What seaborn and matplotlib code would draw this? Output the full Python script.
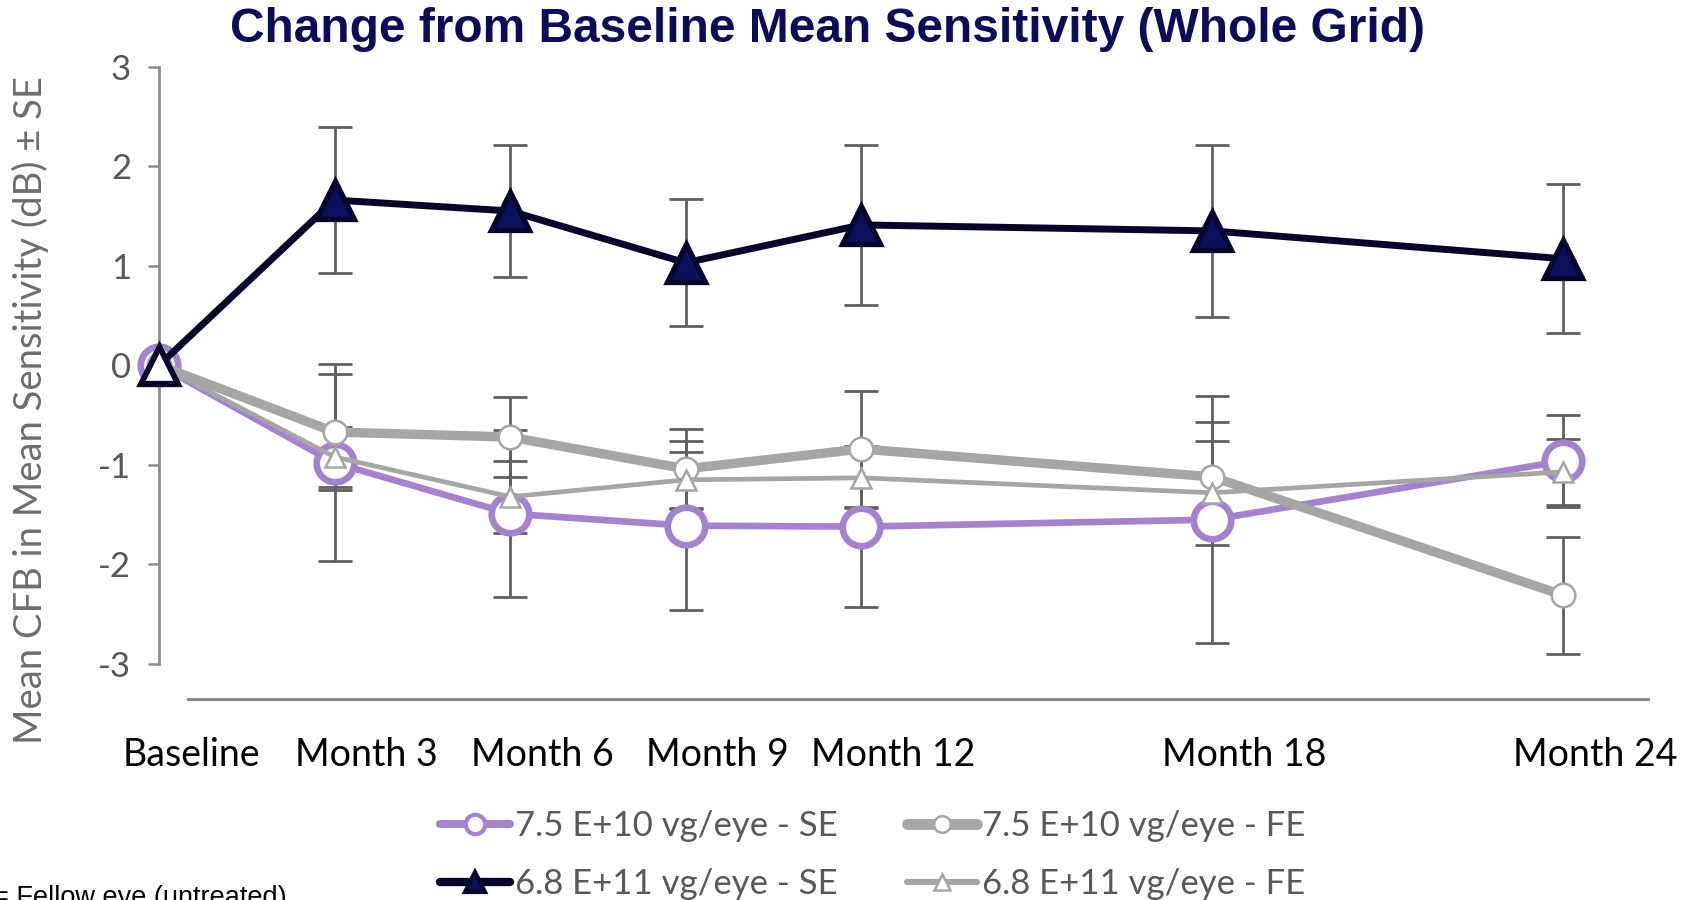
import numpy as np
import pandas as pd
import matplotlib
matplotlib.use("Agg")
import matplotlib.pyplot as plt
import matplotlib.transforms as mtransforms
from matplotlib.lines import Line2D
import seaborn as sns

# ---------------- data ----------------
months = [0, 3, 6, 9, 12, 18, 24]
tick_labels = ["Baseline", "Month 3", "Month 6", "Month 9", "Month 12", "Month 18", "Month 24"]

se_low_mean = [0, -0.98, -1.49, -1.61, -1.62, -1.55, -0.96]
se_low_err = [0, 0.99, 0.84, 0.85, 0.81, 1.24, 0.46]

fe_low_mean = [0, -0.67, -0.72, -1.04, -0.84, -1.12, -2.31]
fe_low_err = [0, 0.58, 0.40, 0.40, 0.58, 0.55, 0.59]

se_high_mean = [0, 1.66, 1.55, 1.03, 1.41, 1.35, 1.07]
se_high_err = [0, 0.73, 0.66, 0.64, 0.80, 0.86, 0.75]

fe_high_mean = [0, -0.92, -1.32, -1.15, -1.13, -1.28, -1.07]
fe_high_err = [0, 0.30, 0.36, 0.28, 0.30, 0.52, 0.33]

series_names = ["7.5 E+10 vg/eye - SE", "7.5 E+10 vg/eye - FE",
                "6.8 E+11 vg/eye - SE", "6.8 E+11 vg/eye - FE"]

y_ticks = [-3, -2, -1, 0, 1, 2, 3]
y_tick_labels = ["-3", "-2", "-1", "0", "1", "2", "3"]

title = "Change from Baseline Mean Sensitivity (Whole Grid)"
y_label = "Mean CFB in Mean Sensitivity (dB) \u00b1 SE"
footnote = "= Fellow eye (untreated)"

# ---------------- style ----------------
PURPLE = "#A582CF"
GREY = "#A6A6A6"
NAVY_LINE = "#06062C"
NAVY_FILL = "#0B0F5E"
ERR = "#606060"
AXIS = "#8C8C8C"
TXT_GREY = "#595959"
TITLE_C = "#0B0B5B"

sns.set_theme(style="white")
plt.rcParams["font.family"] = ["Lato", "DejaVu Sans"]

df = pd.DataFrame({
    "month": months * 4,
    "value": se_low_mean + fe_low_mean + se_high_mean + fe_high_mean,
    "err": se_low_err + fe_low_err + se_high_err + fe_high_err,
    "series": np.repeat(series_names, len(months)),
})

styles = {
    series_names[0]: dict(color=PURPLE, lw=4.8, marker="o", ms=27, mfc="white", mec=PURPLE, mew=4.8, z=3),
    series_names[1]: dict(color=GREY, lw=6.8, marker="o", ms=17, mfc="white", mec=GREY, mew=1.8, z=4),
    series_names[3]: dict(color=GREY, lw=3.4, marker="^", ms=15, mfc="white", mec=GREY, mew=1.8, z=5),
    series_names[2]: dict(color=NAVY_LINE, lw=5.0, marker="^", ms=28, mfc=NAVY_FILL, mec=NAVY_LINE, mew=3.8, z=6),
}

fig = plt.figure(figsize=(16.85, 9.0), dpi=100)
ax = fig.add_axes([159 / 1685, 1 - 698.5 / 900, (1657 - 159) / 1685, (698.5 - 66.6) / 900])

# error bars (under the lines/markers)
for name in series_names:
    sub = df[df["series"] == name]
    m = sub["err"] > 0
    ax.errorbar(sub["month"][m], sub["value"][m], yerr=sub["err"][m], fmt="none",
                ecolor=ERR, elinewidth=2.0, capsize=12, capthick=2.0, zorder=1)

# lines with markers via seaborn
for name, st in styles.items():
    sub = df[df["series"] == name]
    sns.lineplot(data=sub, x="month", y="value", ax=ax, color=st["color"], linewidth=st["lw"],
                 marker=st["marker"], markersize=st["ms"], markerfacecolor=st["mfc"],
                 markeredgecolor=st["mec"], markeredgewidth=st["mew"], zorder=st["z"],
                 clip_on=False, legend=False, errorbar=None)

# baseline triangle of the high-dose SE series is shown unfilled
hi = df[df["series"] == series_names[2]]
ax.plot(hi["month"].iloc[:1], hi["value"].iloc[:1], linestyle="none", marker="^", markersize=26,
        markerfacecolor="white", markeredgecolor=NAVY_LINE, markeredgewidth=3.8, zorder=7, clip_on=False)

# axes styling
ax.set_xlim(0, 25.6)
ax.set_ylim(-3.346, 3.0)
ax.set_xlabel("")
ax.set_ylabel("")
for s in ["top", "right"]:
    ax.spines[s].set_visible(False)
ax.spines["left"].set_bounds(-3, 3)
ax.spines["left"].set_color(AXIS)
ax.spines["left"].set_linewidth(2.0)
ax.spines["bottom"].set_bounds(0.5, 25.45)
ax.spines["bottom"].set_color(AXIS)
ax.spines["bottom"].set_linewidth(2.2)

ax.set_yticks(y_ticks)
ax.set_yticklabels(y_tick_labels)
ax.tick_params(axis="y", direction="out", length=8, width=1.8, color=AXIS, pad=12,
               labelsize=25, labelcolor=TXT_GREY, left=True)
ax.set_xticks(months)
ax.set_xticklabels(tick_labels)
ax.tick_params(axis="x", length=0, pad=28, labelsize=27, labelcolor="black")
shift = mtransforms.ScaledTranslation(32 / 100, 0, fig.dpi_scale_trans)
for lab in ax.get_xticklabels():
    lab.set_transform(lab.get_transform() + shift)
ax.grid(False)

# titles / labels
fig.text(0.491, 0.967, title, ha="center", va="center", fontsize=34.5, fontweight="bold",
         color=TITLE_C, family=["Liberation Sans", "DejaVu Sans"])
fig.text(0.018, 0.545, y_label, rotation=90, ha="center", va="center", fontsize=27.5, color="#6E6E6E")
fig.text(-0.004, -0.006, footnote, ha="left", va="baseline", fontsize=19.5, color="black",
         family=["Liberation Sans", "DejaVu Sans"])

# legend
def handle(name, ms):
    st = styles[name]
    return Line2D([], [], color=st["color"], lw=st["lw"] + 1, marker=st["marker"], markersize=ms,
                  markerfacecolor=st["mfc"], markeredgecolor=st["mec"], markeredgewidth=min(st["mew"], 3.0))

handles = [handle(series_names[0], 14), handle(series_names[2], 15),
           handle(series_names[1], 12), handle(series_names[3], 11)]
labels = [series_names[0], series_names[2], series_names[1], series_names[3]]
leg = fig.legend(handles, labels, loc="center", bbox_to_anchor=(0.518, 0.050), ncol=2, frameon=False,
                 fontsize=25, handlelength=2.0, handletextpad=0.15, columnspacing=2.0, labelspacing=0.75)
for t in leg.get_texts():
    t.set_color(TXT_GREY)

fig.savefig("out.png", dpi=100)
